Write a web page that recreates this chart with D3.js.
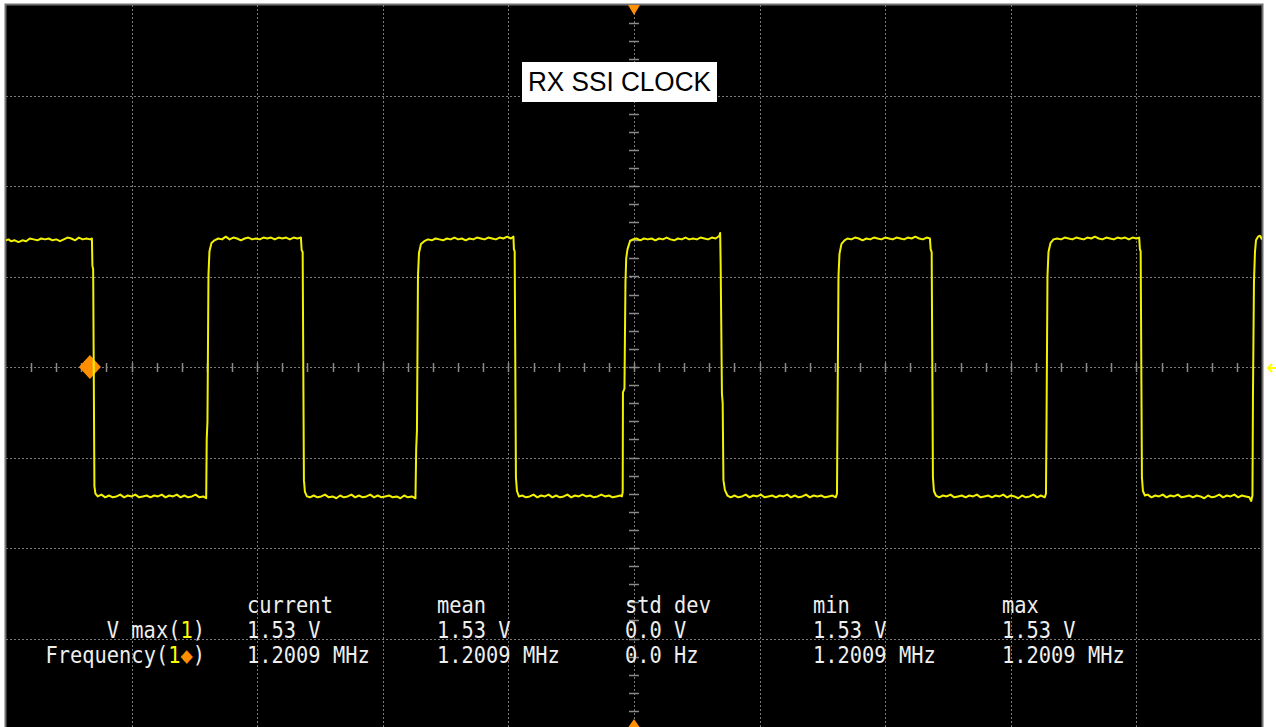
<!DOCTYPE html>
<html>
<head>
<meta charset="utf-8">
<script src="https://cdn.jsdelivr.net/npm/d3@7"></script>
<style>
  body { margin: 0; background: #fff; }
  #container { width: 1276px; height: 727px; overflow: hidden; }
</style>
</head>
<body>
<div id="container"></div>
<script>
const width = 1276;
const height = 727;

// screen: 10 div x 500 ns, 8 div x 1 V
const timeDomain = [0, 5];      // us
const voltDomain = [-4, 4];     // V
const timeGrid = [0.5, 1, 1.5, 2, 2.5, 3, 3.5, 4, 4.5];
const voltGrid = [-3, -2, -1, 0, 1, 2, 3];

const channelLabel = 'RX SSI CLOCK';
const trigger = { t: 0.334, v: 0 };

// measurement table
const measColumns = ['current', 'mean', 'std dev', 'min', 'max'];
const measRows = ['V max', 'Frequency'];
const vmaxValues = ['1.53 V', '1.53 V', '0.0 V', '1.53 V', '1.53 V'];
const freqValues = ['1.2009 MHz', '1.2009 MHz', '0.0 Hz', '1.2009 MHz', '1.2009 MHz'];

// channel 1 trace, [time us, volts]
const trace = [
  [0.000,1.40],[0.010,1.41],[0.020,1.39],[0.035,1.40],[0.050,1.38],[0.065,1.40],[0.080,1.39],[0.095,1.42],
  [0.110,1.41],[0.125,1.40],[0.140,1.42],[0.155,1.41],[0.170,1.42],[0.185,1.40],[0.200,1.41],[0.215,1.39],
  [0.230,1.41],[0.245,1.43],[0.260,1.42],[0.275,1.40],[0.290,1.43],[0.305,1.41],[0.320,1.42],[0.335,1.41],
  [0.342,1.42],
  [0.344,1.12],[0.347,1.08],[0.352,-1.32],[0.356,-1.40],[0.365,-1.43],
  [0.380,-1.41],[0.395,-1.44],[0.410,-1.42],[0.425,-1.44],[0.440,-1.43],[0.455,-1.41],[0.470,-1.44],[0.485,-1.42],
  [0.500,-1.43],[0.515,-1.41],[0.530,-1.44],[0.545,-1.43],[0.560,-1.42],[0.575,-1.44],[0.590,-1.42],[0.605,-1.43],
  [0.620,-1.41],[0.635,-1.44],[0.650,-1.42],[0.665,-1.43],[0.680,-1.41],[0.695,-1.44],[0.710,-1.42],[0.725,-1.44],
  [0.740,-1.43],[0.755,-1.41],[0.770,-1.44],[0.785,-1.43],[0.797,-1.45],
  [0.799,-0.80],[0.802,-0.60],[0.806,1.02],[0.810,1.28],[0.818,1.37],[0.830,1.40],
  [0.845,1.42],[0.860,1.41],[0.875,1.44],[0.890,1.41],[0.905,1.43],[0.920,1.42],[0.935,1.40],[0.950,1.42],
  [0.965,1.43],[0.980,1.41],[0.995,1.42],[1.010,1.41],[1.025,1.43],[1.040,1.42],[1.055,1.43],[1.070,1.41],
  [1.085,1.43],[1.100,1.42],[1.115,1.43],[1.130,1.41],[1.145,1.43],[1.160,1.42],[1.174,1.43],
  [1.177,1.29],[1.181,1.27],[1.186,-1.25],[1.190,-1.38],[1.198,-1.43],
  [1.210,-1.44],[1.225,-1.42],[1.240,-1.44],[1.255,-1.43],[1.270,-1.41],[1.285,-1.44],[1.300,-1.43],[1.315,-1.45],
  [1.330,-1.42],[1.345,-1.44],[1.360,-1.43],[1.375,-1.41],[1.390,-1.44],[1.405,-1.42],[1.420,-1.44],[1.435,-1.43],
  [1.450,-1.41],[1.465,-1.44],[1.480,-1.42],[1.495,-1.44],[1.510,-1.43],[1.525,-1.42],[1.540,-1.44],[1.555,-1.43],
  [1.570,-1.45],[1.585,-1.42],[1.600,-1.44],[1.615,-1.43],[1.630,-1.45],
  [1.633,-0.90],[1.636,-0.70],[1.640,1.00],[1.644,1.26],[1.652,1.36],[1.665,1.39],
  [1.680,1.41],[1.695,1.40],[1.710,1.42],[1.725,1.41],[1.740,1.40],[1.755,1.42],[1.770,1.41],[1.785,1.43],
  [1.800,1.41],[1.815,1.42],[1.830,1.40],[1.845,1.42],[1.860,1.41],[1.875,1.43],[1.890,1.42],[1.905,1.41],
  [1.920,1.43],[1.935,1.42],[1.950,1.41],[1.965,1.43],[1.980,1.42],[1.995,1.44],[2.010,1.42],[2.020,1.44],
  [2.022,1.30],[2.025,1.28],[2.030,-1.22],[2.034,-1.37],[2.042,-1.43],
  [2.055,-1.42],[2.070,-1.44],[2.085,-1.43],[2.100,-1.41],[2.115,-1.44],[2.130,-1.42],[2.145,-1.43],[2.160,-1.41],
  [2.175,-1.44],[2.190,-1.42],[2.205,-1.44],[2.220,-1.43],[2.235,-1.41],[2.250,-1.44],[2.265,-1.42],[2.280,-1.43],
  [2.295,-1.41],[2.310,-1.43],[2.325,-1.42],[2.340,-1.44],[2.355,-1.43],[2.370,-1.41],[2.385,-1.43],[2.400,-1.42],
  [2.415,-1.44],[2.430,-1.43],[2.445,-1.42],[2.452,-1.43],[2.455,-1.38],
  [2.456,-0.28],[2.462,-0.24],[2.466,0.93],[2.469,1.20],[2.474,1.30],[2.484,1.39],
  [2.495,1.41],[2.510,1.42],[2.525,1.40],[2.540,1.42],[2.555,1.41],[2.570,1.42],[2.585,1.40],[2.600,1.42],
  [2.615,1.41],[2.630,1.43],[2.645,1.41],[2.660,1.40],[2.675,1.42],[2.690,1.41],[2.705,1.43],[2.720,1.41],
  [2.735,1.42],[2.750,1.41],[2.765,1.43],[2.780,1.42],[2.795,1.41],[2.810,1.43],[2.825,1.42],[2.840,1.45],
  [2.843,1.48],[2.845,1.13],[2.850,-0.29],[2.853,-0.40],[2.856,-1.25],[2.862,-1.36],[2.872,-1.42],
  [2.885,-1.44],[2.900,-1.42],[2.915,-1.44],[2.930,-1.43],[2.945,-1.41],[2.960,-1.44],[2.975,-1.42],[2.990,-1.43],
  [3.005,-1.41],[3.020,-1.44],[3.035,-1.43],[3.050,-1.42],[3.065,-1.44],[3.080,-1.42],[3.095,-1.43],[3.110,-1.41],
  [3.125,-1.44],[3.140,-1.42],[3.155,-1.44],[3.170,-1.43],[3.185,-1.41],[3.200,-1.44],[3.215,-1.42],[3.230,-1.43],
  [3.245,-1.42],[3.260,-1.44],[3.275,-1.43],[3.290,-1.42],[3.303,-1.44],
  [3.308,-1.40],[3.310,-0.60],[3.314,1.00],[3.318,1.25],[3.326,1.36],[3.338,1.40],
  [3.350,1.42],[3.365,1.41],[3.380,1.43],[3.395,1.42],[3.410,1.40],[3.425,1.42],[3.440,1.41],[3.455,1.43],
  [3.470,1.42],[3.485,1.41],[3.500,1.43],[3.515,1.42],[3.530,1.41],[3.545,1.43],[3.560,1.42],[3.575,1.41],
  [3.590,1.43],[3.605,1.42],[3.620,1.44],[3.635,1.42],[3.650,1.41],[3.665,1.43],[3.678,1.42],
  [3.681,1.30],[3.685,1.27],[3.690,-1.22],[3.694,-1.37],[3.702,-1.42],
  [3.715,-1.44],[3.730,-1.42],[3.745,-1.43],[3.760,-1.41],[3.775,-1.44],[3.790,-1.43],[3.805,-1.42],[3.820,-1.44],
  [3.835,-1.42],[3.850,-1.43],[3.865,-1.41],[3.880,-1.44],[3.895,-1.43],[3.910,-1.42],[3.925,-1.44],[3.940,-1.42],
  [3.955,-1.43],[3.970,-1.41],[3.985,-1.44],[4.000,-1.42],[4.015,-1.43],[4.030,-1.45],[4.045,-1.42],[4.060,-1.44],
  [4.075,-1.43],[4.090,-1.41],[4.105,-1.44],[4.120,-1.42],[4.135,-1.44],
  [4.140,-1.40],[4.142,-0.70],[4.146,1.00],[4.150,1.27],[4.158,1.37],[4.170,1.41],
  [4.185,1.42],[4.200,1.41],[4.215,1.43],[4.230,1.42],[4.245,1.41],[4.260,1.43],[4.275,1.42],[4.290,1.41],
  [4.305,1.43],[4.320,1.42],[4.335,1.44],[4.350,1.42],[4.365,1.41],[4.380,1.43],[4.395,1.42],[4.410,1.41],
  [4.425,1.43],[4.440,1.42],[4.455,1.43],[4.470,1.41],[4.485,1.43],[4.500,1.42],[4.511,1.43],
  [4.514,1.30],[4.517,1.28],[4.522,-1.22],[4.526,-1.37],[4.534,-1.42],
  [4.545,-1.41],[4.560,-1.44],[4.575,-1.42],[4.590,-1.43],[4.605,-1.41],[4.620,-1.44],[4.635,-1.42],[4.650,-1.43],
  [4.665,-1.41],[4.680,-1.44],[4.695,-1.43],[4.710,-1.42],[4.725,-1.44],[4.740,-1.42],[4.755,-1.43],[4.770,-1.45],
  [4.785,-1.42],[4.800,-1.44],[4.815,-1.43],[4.830,-1.41],[4.845,-1.44],[4.860,-1.42],[4.875,-1.43],[4.890,-1.41],
  [4.905,-1.44],[4.920,-1.42],[4.935,-1.43],[4.950,-1.44],[4.957,-1.48],[4.962,-1.42],
  [4.964,-0.33],[4.968,0.94],[4.972,1.27],[4.976,1.40],[4.984,1.44],[4.992,1.45],[5.000,1.41]
];

const svg = d3.select('#container')
                .append('svg')
                .attr('width', width)
                .attr('height', height)
                .style('background-color', '#fff');

const x = d3.scaleLinear().domain(timeDomain).range([6, 1262]);
const y = d3.scaleLinear().domain(voltDomain).range([729, 5]);

/* SCREEN */
svg.append('rect')
    .attr('x', x(0) - 0.5)
    .attr('y', y(4) - 0.5)
    .attr('width', x(5) - x(0) + 1)
    .attr('height', y(-4) - y(4) + 1)
    .attr('fill', '#000')
    .attr('stroke', '#707070')
    .attr('stroke-width', 2);

svg.append('defs').append('clipPath')
    .attr('id', 'screen')
    .append('rect')
    .attr('x', x(0))
    .attr('y', y(4))
    .attr('width', x(5) - x(0))
    .attr('height', y(-4) - y(4));

/* GRATICULE */
const grid = svg.append('g').attr('stroke', '#7a7a7a').attr('stroke-width', 1);

grid.selectAll('.vgrid')
    .data(timeGrid)
    .enter().append('line')
    .attr('x1', d => Math.round(x(d)) + 0.5)
    .attr('x2', d => Math.round(x(d)) + 0.5)
    .attr('y1', y(4))
    .attr('y2', y(-4))
    .attr('stroke-dasharray', '2,2');

grid.selectAll('.hgrid')
    .data(voltGrid)
    .enter().append('line')
    .attr('y1', d => Math.round(y(d)) + 0.5)
    .attr('y2', d => Math.round(y(d)) + 0.5)
    .attr('x1', x(0))
    .attr('x2', x(5))
    .attr('stroke-dasharray', '2,2');

// minor ticks on the centre axes
grid.selectAll('.xminor')
    .data(d3.range(0.1, 5, 0.1))
    .enter().append('line')
    .attr('x1', d => Math.round(x(d)) + 0.5)
    .attr('x2', d => Math.round(x(d)) + 0.5)
    .attr('y1', y(0) - 4)
    .attr('y2', y(0) + 5)
    .attr('stroke', '#8a8a8a')
    .attr('stroke-width', 1.5);

grid.selectAll('.yminor')
    .data(d3.range(-3.8, 4, 0.2))
    .enter().append('line')
    .attr('y1', d => Math.round(y(d)) + 0.5)
    .attr('y2', d => Math.round(y(d)) + 0.5)
    .attr('x1', x(2.5) - 5)
    .attr('x2', x(2.5) + 5)
    .attr('stroke', '#8a8a8a')
    .attr('stroke-width', 1.5);

/* MARKERS */
const orange = '#ff8f00';
const tx = x(trigger.t), ty = y(trigger.v);
svg.append('path')
    .attr('d', `M${tx - 11},${ty} L${tx},${ty - 12} L${tx + 11},${ty} L${tx},${ty + 12} Z`)
    .attr('fill', orange);
svg.append('circle')
    .attr('cx', tx).attr('cy', ty).attr('r', 7.5)
    .attr('fill', orange);

const cx = x(2.5);
svg.append('path')
    .attr('d', `M${cx - 6},${y(4)} L${cx + 6},${y(4)} L${cx},${y(4) + 10} Z`)
    .attr('fill', orange);
svg.append('path')
    .attr('d', `M${cx - 7},${height + 2} L${cx + 7},${height + 2} L${cx},${height - 8} Z`)
    .attr('fill', orange);

// trigger level arrow at right edge
svg.append('path')
    .attr('d', `M1276,${y(0) + 1} L1268,${y(0) + 1} M1272,${y(0) - 3} L1268,${y(0) + 1} L1272,${y(0) + 5}`)
    .attr('fill', 'none')
    .attr('stroke', '#ffff00')
    .attr('stroke-width', 2);

/* TRACE */
const line = d3.line()
    .x(d => x(d[0]))
    .y(d => y(d[1]));

svg.append('path')
    .datum(trace)
    .attr('clip-path', 'url(#screen)')
    .attr('d', line)
    .attr('fill', 'none')
    .attr('stroke', '#f2f200')
    .attr('stroke-width', 2)
    .attr('stroke-linejoin', 'round');

/* CHANNEL LABEL */
svg.append('rect')
    .attr('x', 522)
    .attr('y', 62)
    .attr('width', 195)
    .attr('height', 40)
    .attr('fill', '#fff');

svg.append('text')
    .attr('x', 528)
    .attr('y', 91)
    .attr('textLength', 183)
    .attr('lengthAdjust', 'spacingAndGlyphs')
    .style('font-family', 'Liberation Sans, Arial, sans-serif')
    .style('font-size', '27px')
    .attr('fill', '#000')
    .text(channelLabel);

/* MEASUREMENTS */
const colX = [247, 437, 625, 813, 1002];
const rowY = [613, 638, 663];
const meas = svg.append('g')
    .style('font-family', 'DejaVu Sans Mono, Liberation Mono, monospace')
    .style('font-size', '20.4px')
    .attr('fill', '#eeeeee');

function textAt(px, py, anchor) {
    return meas.append('g')
        .attr('transform', `translate(${px},${py}) scale(1,1.12)`)
        .append('text')
        .attr('text-anchor', anchor || 'start');
}

measColumns.forEach((c, i) => textAt(colX[i], rowY[0]).text(c));

let t1 = textAt(205, rowY[1], 'end');
t1.append('tspan').text(measRows[0] + '(');
t1.append('tspan').attr('fill', '#ffff00').text('1');
t1.append('tspan').text(')');

let t2 = textAt(205, rowY[2], 'end');
t2.append('tspan').text(measRows[1] + '(');
t2.append('tspan').attr('fill', '#ffff00').text('1');
t2.append('tspan').attr('fill', orange).text('◆');
t2.append('tspan').text(')');

vmaxValues.forEach((v, i) => textAt(colX[i], rowY[1]).text(v));
freqValues.forEach((v, i) => textAt(colX[i], rowY[2]).text(v));
</script>
</body>
</html>
